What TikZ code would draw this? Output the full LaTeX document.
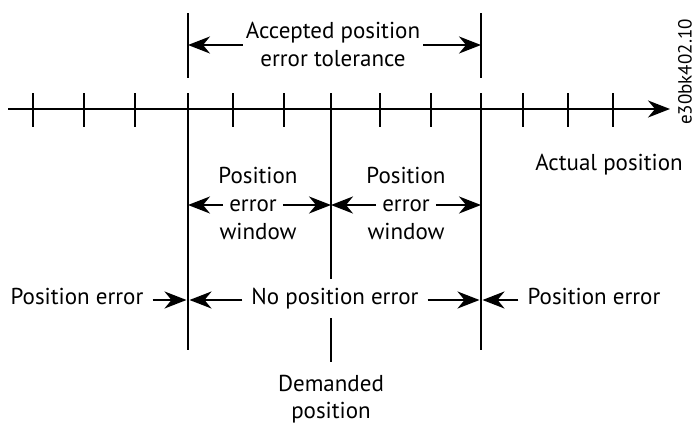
\documentclass[tikz,border=0pt]{standalone}
\usepackage{fontspec}
\setmainfont{PT Sans}
\usetikzlibrary{arrows.meta}
\tikzset{
  ln/.style={line width=2.3pt},
  arr/.style={ln,-{Stealth[length=22pt,width=17pt,inset=7pt]}},
  lbl/.style={font=\fontsize{23}{27}\selectfont, inner ysep=0pt, anchor=base},
}
\begin{document}
\begin{tikzpicture}[x=1pt,y=-1pt]
\useasboundingbox (0,0) rectangle (698,423);
% coordinates
\coordinate (ax0) at (8,109);
\coordinate (ax1) at (670,109);
\coordinate (A1) at (188,13);  \coordinate (A2) at (188,78);
\coordinate (B1) at (481,13);  \coordinate (B2) at (481,78);
\coordinate (L1) at (188,93);  \coordinate (L2) at (188,350);
\coordinate (R1) at (481,93);  \coordinate (R2) at (481,350);
\coordinate (C1) at (331,93);  \coordinate (C2) at (331,279);
\coordinate (C3) at (331,318); \coordinate (C4) at (331,362);
% axis and ticks
\draw[arr] (ax0) -- (ax1);
\foreach \x in {33,84,135,233,284,380,431,523,568,613}
  \draw[ln] (\x,93) -- (\x,127);
% vertical lines
\draw[ln] (A1) -- (A2);
\draw[ln] (B1) -- (B2);
\draw[ln] (L1) -- (L2);
\draw[ln] (R1) -- (R2);
\draw[ln] (C1) -- (C2);
\draw[ln] (C3) -- (C4);
% top tolerance
\node[lbl, inner xsep=3pt] (t1) at (333,38) {Accepted position};
\node[lbl, inner xsep=3pt] (t2) at (333,66) {error tolerance};
\coordinate (tL) at (188,45);
\coordinate (tR) at (481,45);
\draw[arr] (t1.west |- tL) -- (tL);
\draw[arr] (t1.east |- tR) -- (tR);
% windows
\node[lbl] (p1) at (258,183) {Position};
\node[lbl, inner xsep=6pt] (e1) at (253,211) {error};
\node[lbl] (w1) at (258,239) {window};
\node[lbl] (p2) at (406,183) {Position};
\node[lbl, inner xsep=6pt] (e2) at (406,211) {error};
\node[lbl] (w2) at (406,239) {window};
\coordinate (wL) at (188,205);
\coordinate (wC) at (331,205);
\coordinate (wR) at (481,205);
\draw[arr] (e1.west |- wL) -- (wL);
\draw[arr] (e1.east |- wC) -- (wC);
\draw[arr] (e2.west |- wC) -- (wC);
\draw[arr] (e2.east |- wR) -- (wR);
% bottom row
\node[lbl, inner xsep=9pt] (pe1) at (77,304) {Position error};
\node[lbl, inner xsep=9pt] (npe) at (335,304) {No position error};
\node[lbl, inner xsep=9pt] (pe2) at (594,304) {Position error};
\coordinate (bLa) at (186.5,300);
\coordinate (bLb) at (189.5,300);
\coordinate (bRa) at (479.5,300);
\coordinate (bRb) at (482.5,300);
\draw[arr] (pe1.east |- bLa) -- (bLa);
\draw[arr] (npe.west |- bLb) -- (bLb);
\draw[arr] (npe.east |- bRa) -- (bRa);
\draw[arr] (pe2.west |- bRb) -- (bRb);
% other labels
\node[lbl] (act) at (609,170) {Actual position};
\node[lbl] (dem1) at (331,391) {Demanded};
\node[lbl] (dem2) at (331,418) {position};
\node[font=\fontsize{19}{22}\selectfont, rotate=90, inner sep=0pt] (id) at (685,72) {e30bk402.10};
\end{tikzpicture}
\end{document}
